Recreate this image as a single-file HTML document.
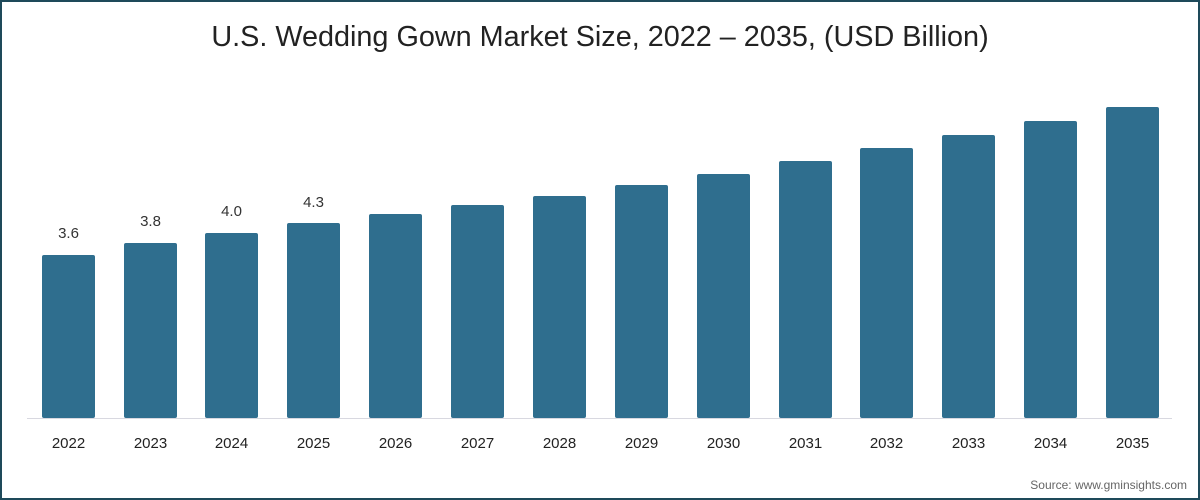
<!DOCTYPE html>
<html><head><style>
body{margin:0;width:1200px;height:500px;overflow:hidden;background:#fff}
.f{position:absolute;left:0;top:0;width:1196px;height:496px;border:2px solid #1e4a5a}
</style></head><body>
<div class="f"></div>
<svg width="1200" height="500" style="position:absolute;left:0;top:0" font-family="'Liberation Sans',sans-serif">
<text x="600" y="46" text-anchor="middle" font-size="28.8" fill="#222">U.S. Wedding Gown Market Size, 2022 – 2035, (USD Billion)</text>
<line x1="27" y1="418.5" x2="1172" y2="418.5" stroke="#d8d8e0" stroke-width="1"/>
<g fill="#2f6e8e">
<rect x="42" y="255" width="53" height="163" rx="2"/>
<rect x="124" y="243" width="53" height="175" rx="2"/>
<rect x="205" y="233" width="53" height="185" rx="2"/>
<rect x="287" y="223" width="53" height="195" rx="2"/>
<rect x="369" y="214" width="53" height="204" rx="2"/>
<rect x="451" y="205" width="53" height="213" rx="2"/>
<rect x="533" y="196" width="53" height="222" rx="2"/>
<rect x="615" y="185" width="53" height="233" rx="2"/>
<rect x="697" y="174" width="53" height="244" rx="2"/>
<rect x="779" y="161" width="53" height="257" rx="2"/>
<rect x="860" y="148" width="53" height="270" rx="2"/>
<rect x="942" y="135" width="53" height="283" rx="2"/>
<rect x="1024" y="121" width="53" height="297" rx="2"/>
<rect x="1106" y="107" width="53" height="311" rx="2"/>
</g>
<g font-size="15" fill="#333" text-anchor="middle">
<text x="68.5" y="238">3.6</text><text x="150.5" y="226">3.8</text><text x="231.5" y="216">4.0</text><text x="313.5" y="207">4.3</text>
</g>
<g font-size="15" fill="#222" text-anchor="middle">
<text x="68.5" y="448">2022</text><text x="150.5" y="448">2023</text><text x="231.5" y="448">2024</text><text x="313.5" y="448">2025</text><text x="395.5" y="448">2026</text><text x="477.5" y="448">2027</text><text x="559.5" y="448">2028</text><text x="641.5" y="448">2029</text><text x="723.5" y="448">2030</text><text x="805.5" y="448">2031</text><text x="886.5" y="448">2032</text><text x="968.5" y="448">2033</text><text x="1050.5" y="448">2034</text><text x="1132.5" y="448">2035</text>
</g>
<text x="1187" y="489" text-anchor="end" font-size="12" fill="#666">Source: www.gminsights.com</text>
</svg>
</body></html>
